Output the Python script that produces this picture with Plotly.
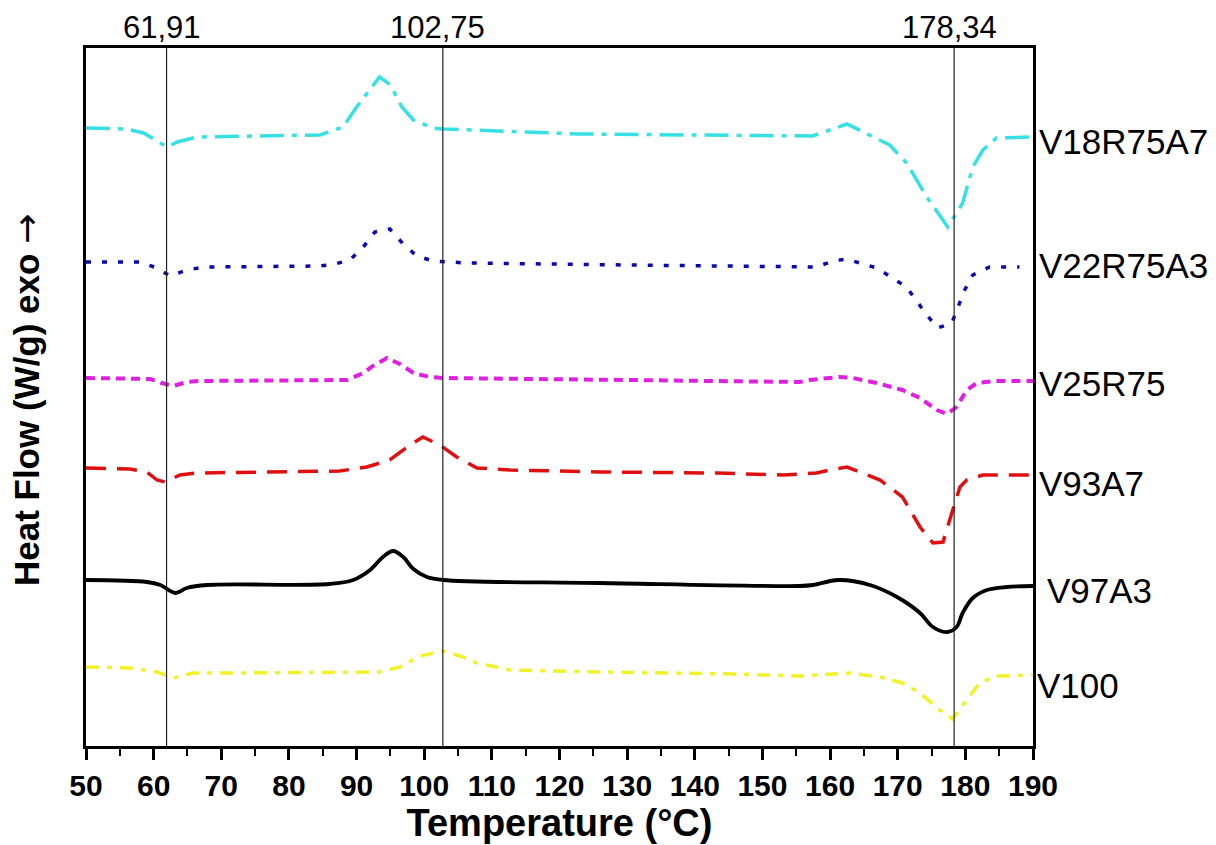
import plotly.graph_objects as go

# ---- data (temperature in °C, heat flow in arbitrary stacked units) ----
t_v18 = [50, 56, 58.5, 62, 63.5, 66.4, 75, 84.6, 88, 90, 93.4, 95, 96.7, 98.4, 101.3, 102.8,
         123, 140, 157.4, 162.5, 168.8, 171.3, 174.3, 177.4, 179.6, 181.1, 182.6, 184.6, 188, 190]
hf_v18 = [62.9, 62.8, 62.4, 61.0, 61.5, 62.0, 62.1, 62.2, 63.0, 65.0, 68.0, 67.2, 65.0, 63.7, 62.9, 62.8,
          62.3, 62.2, 62.1, 63.3, 61.2, 59.4, 56.0, 53.0, 55.4, 59.0, 60.7, 61.9, 62.0, 62.0]

t_v22 = [50, 58, 60.5, 62.4, 64.9, 67.6, 84.6, 86.8, 89, 91, 92.7, 94.9, 96.9, 98.9, 101.3, 106.3,
         130, 158, 160.4, 162.4, 166.9, 171.3, 174.3, 175.9, 178, 178.9, 179.9, 181.1, 183.6, 188]
hf_v22 = [49.5, 49.5, 48.9, 48.1, 48.7, 49.0, 49.1, 49.3, 49.7, 51.0, 52.5, 52.8, 51.3, 50.1, 49.6, 49.4,
          49.2, 49.0, 49.6, 49.8, 48.9, 47.0, 44.2, 42.9, 43.4, 44.9, 46.7, 48.2, 49.0, 49.0]

t_v25 = [50, 59.5, 61.2, 62.9, 64.9, 66.8, 88.6, 91, 92.4, 94.5, 96.4, 98.4, 100.8, 102.8, 130, 155.5,
         157, 161.4, 163.4, 166.9, 170.7, 173.3, 175.8, 177.3, 178.7, 180.2, 181.7, 184.6, 190]
hf_v25 = [37.9, 37.8, 37.4, 37.1, 37.5, 37.6, 37.7, 38.4, 39.1, 39.9, 39.3, 38.4, 38.0, 37.9, 37.7, 37.5,
          37.7, 38.0, 37.9, 37.4, 36.7, 35.9, 34.7, 34.3, 35.0, 36.7, 37.4, 37.6, 37.6]

t_v93 = [50, 56.5, 59, 60.5, 61.7, 63.9, 66.4, 87.5, 91.5, 94.9, 97.9, 99.8, 102.3, 104.8, 107.8, 112.7,
         126, 143.3, 153, 158, 160, 162.5, 164.4, 167.4, 170.7, 173.3, 175.2, 176.7, 178, 179.2, 180.2,
         182.6, 190]
hf_v93 = [28.9, 28.8, 28.5, 27.7, 27.5, 28.2, 28.4, 28.6, 29.0, 29.7, 31.2, 32.0, 31.2, 30.0, 28.9, 28.7,
          28.5, 28.4, 28.2, 28.4, 28.7, 29.0, 28.5, 27.7, 26.0, 23.0, 21.4, 21.5, 24.4, 27.0, 27.7,
          28.2, 28.2]

t_v97 = [50, 59, 61, 63.2, 64.9, 67.9, 86, 89.5, 92, 93.9, 95.4, 96.9, 98.4, 100.4, 102.8, 126,
         155.5, 157.5, 161.2, 165.9, 169.9, 173.3, 175.2, 177.3, 178.7, 179.6, 181.1, 183.2, 186.1, 190]
hf_v97 = [17.7, 17.5, 17.2, 16.4, 16.9, 17.2, 17.3, 17.7, 18.7, 20.0, 20.6, 20.0, 18.8, 18.0, 17.7, 17.4,
          17.1, 17.2, 17.7, 17.2, 16.0, 14.4, 13.0, 12.5, 13.0, 14.4, 15.9, 16.7, 17.0, 17.1]

t_v100 = [50, 56.5, 60.5, 62.9, 65.8, 71.3, 93.4, 96.4, 99.4, 102.8, 105.7, 107.8, 112.7, 126, 145.6,
          155.5, 162.9, 167.4, 170.7, 173.3, 176.2, 178.1, 180.2, 182.1, 184.6, 188, 190]
hf_v100 = [9.0, 8.9, 8.5, 7.9, 8.4, 8.4, 8.5, 9.0, 10.1, 10.6, 10.0, 9.4, 8.7, 8.5, 8.3,
           8.1, 8.4, 8.0, 7.4, 6.4, 4.7, 3.8, 5.7, 7.4, 8.1, 8.2, 8.2]

names = ["V18R75A7", "V22R75A3", "V25R75", "V93A7", "V97A3", "V100"]
ref_temps = [61.91, 102.75, 178.34]
ref_labels = ["61,91", "102,75", "178,34"]
x_ticks = list(range(50, 191, 10))

# ---- styles ----
series = [
    (t_v18, hf_v18, "#36E0E4", "24px,8px,5px,8px", 3.5, "linear"),
    (t_v22, hf_v22, "#0A0AB0", "5px,11px", 3.5, "linear"),
    (t_v25, hf_v25, "#E020E0", "9px,6px", 4, "linear"),
    (t_v93, hf_v93, "#E01010", "20px,11px", 3.5, "linear"),
    (t_v97, hf_v97, "#000000", "solid", 3.8, "spline"),
    (t_v100, hf_v100, "#F2F22A", "13px,8px,5px,8px", 3.5, "linear"),
]
label_yshift = [-4, 2, -2, -8, -4, -10]
label_xshift = [0, 0, 0, 0, 8, -2]

FONT = "Arial, Liberation Sans, sans-serif"

fig = go.Figure()
for (tx, hy, col, dash, w, shape), nm in zip(series, names):
    fig.add_trace(go.Scatter(x=tx, y=hy, mode="lines", name=nm,
                             line=dict(color=col, dash=dash, width=w, shape=shape),
                             showlegend=False))

for rt in ref_temps:
    fig.add_shape(type="line", x0=rt, x1=rt, xref="x", y0=0, y1=1, yref="paper",
                  line=dict(color="#222222", width=1.2))

annotations = []
for rt, lab in zip(ref_temps, ref_labels):
    annotations.append(dict(x=rt, y=1, xref="x", yref="paper", text=lab, showarrow=False,
                            xanchor="center", yanchor="middle", yshift=21, xshift=-5,
                            font=dict(family=FONT, size=31, color="black")))
for (tx, hy, *_), nm, ys, xs in zip(series, names, label_yshift, label_xshift):
    annotations.append(dict(x=1.004, y=hy[-1], xref="paper", yref="y", text=nm, showarrow=False,
                            xanchor="left", yanchor="middle", yshift=ys, xshift=xs,
                            font=dict(family=FONT, size=35, color="black")))
annotations.append(dict(x=-0.062, y=0.496, xref="paper", yref="paper",
                        text="Heat Flow (W/g) exo <span style=\"font-family:'DejaVu Sans';font-weight:normal;font-size:36px\">→</span>",
                        textangle=-90, showarrow=False,
                        xanchor="center", yanchor="middle",
                        font=dict(family=FONT, size=35, color="black", weight="bold")))

fig.update_layout(
    width=1216, height=845,
    margin=dict(l=86, r=183, t=48, b=99),
    paper_bgcolor="white", plot_bgcolor="white",
    annotations=annotations,
    xaxis=dict(range=[50, 190], tickvals=x_ticks, ticks="outside", ticklen=11, tickwidth=2.5,
               tickcolor="black", showline=True, linecolor="black", linewidth=2.5, mirror=True,
               showgrid=False, zeroline=False, automargin=False,
               tickfont=dict(family=FONT, size=30, color="black", weight="bold"),
               minor=dict(dtick=5, ticks="outside", ticklen=7, tickwidth=2, tickcolor="black"),
               title=dict(text="Temperature (°C)", standoff=9,
                          font=dict(family=FONT, size=38, color="black", weight="bold"))),
    yaxis=dict(range=[1.1, 70.9], showticklabels=False, ticks="", showline=True, automargin=False,
               linecolor="black", linewidth=2.5, mirror=True, showgrid=False, zeroline=False),
)

fig.write_html("out.html")
